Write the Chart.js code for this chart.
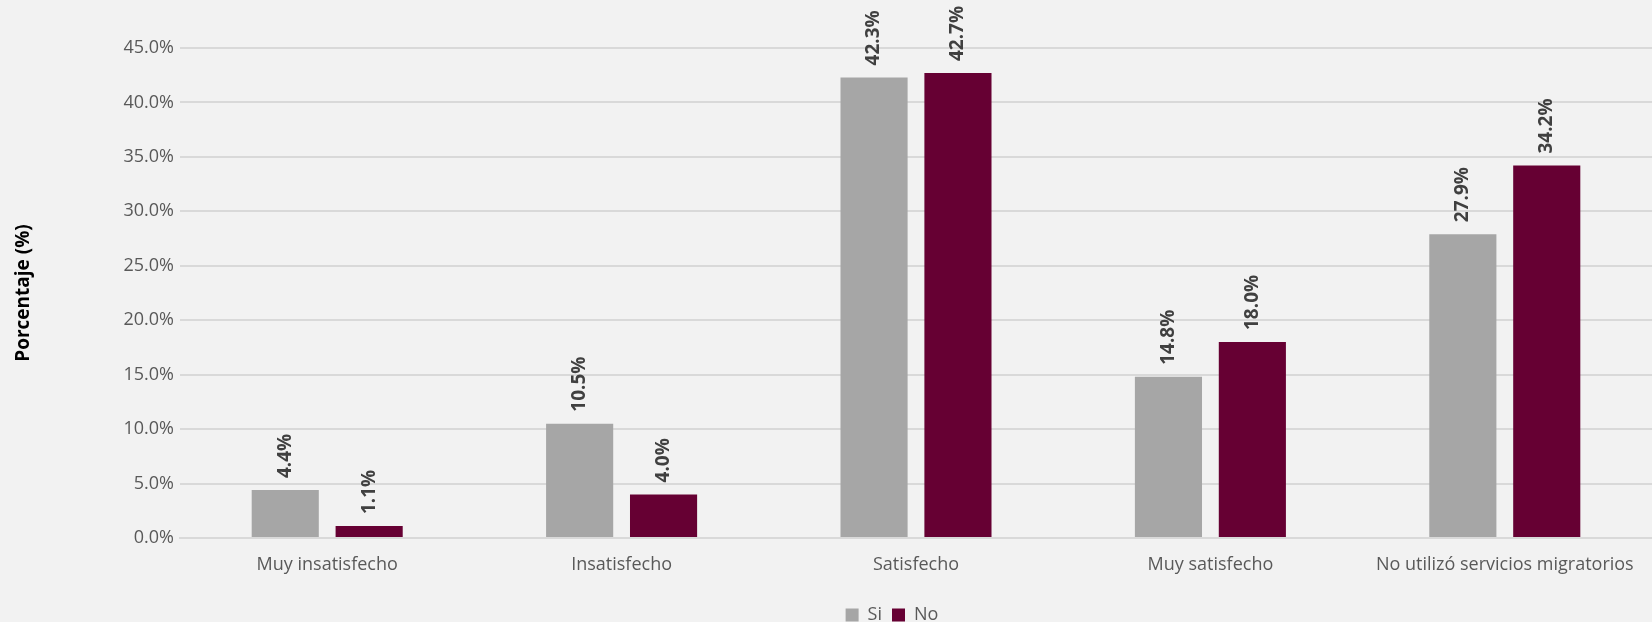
<!DOCTYPE html>
<html>
<head>
<meta charset="utf-8">
<script src="https://cdn.jsdelivr.net/npm/chart.js@4.4.1/dist/chart.umd.min.js"></script>
<style>
  html, body { margin: 0; padding: 0; background: #f2f2f2; }
  #wrap { width: 1652px; height: 622px; }
</style>
</head>
<body>
<div id="wrap"><canvas id="chart" width="1652" height="622"></canvas></div>
<script>
/* Datos del gráfico */
const categorias = ['Muy insatisfecho', 'Insatisfecho', 'Satisfecho', 'Muy satisfecho', 'No utilizó servicios migratorios'];
const valoresSi  = [4.4, 10.5, 42.3, 14.8, 27.9];
const valoresNo  = [1.1, 4.0, 42.7, 18.0, 34.2];
const ticksY     = [0, 5, 10, 15, 20, 25, 30, 35, 40, 45];

const FONT = "'Open Sans', sans-serif";

/* Etiquetas de valor verticales sobre cada barra */
const etiquetasBarras = {
  id: 'etiquetasBarras',
  afterDatasetsDraw(chart) {
    const ctx = chart.ctx;
    ctx.save();
    ctx.font = `bold 19px ${FONT}`;
    ctx.fillStyle = '#404040';
    ctx.textAlign = 'left';
    ctx.textBaseline = 'middle';
    chart.data.datasets.forEach((ds, i) => {
      chart.getDatasetMeta(i).data.forEach((bar, j) => {
        ctx.save();
        ctx.translate(bar.x, bar.y - 12);
        ctx.rotate(-Math.PI / 2);
        ctx.fillText(ds.data[j].toFixed(1) + '%', 0, 0);
        ctx.restore();
      });
    });
    ctx.restore();
  }
};

/* La leyenda del original queda algo a la derecha del centro del lienzo */
const moverLeyenda = {
  id: 'moverLeyenda',
  afterLayout(chart) {
    if (chart.legend) {
      chart.legend.left += 66;
      chart.legend.right += 66;
    }
  }
};

new Chart(document.getElementById('chart').getContext('2d'), {
  type: 'bar',
  data: {
    labels: categorias,
    datasets: [
      { label: 'Si', data: valoresSi, backgroundColor: '#a6a6a6', categoryPercentage: 0.57, barPercentage: 0.8 },
      { label: 'No', data: valoresNo, backgroundColor: '#660033', categoryPercentage: 0.57, barPercentage: 0.8 },
    ],
  },
  options: {
    responsive: false,
    animation: false,
    layout: { padding: { top: 48, right: 0, left: 0, bottom: -12 } },
    plugins: {
      legend: {
        position: 'bottom',
        labels: {
          font: { family: FONT, size: 18 },
          color: '#595959',
          boxWidth: 13,
          boxHeight: 13,
          padding: 10,
        },
      },
      tooltip: { enabled: false },
    },
    scales: {
      x: {
        grid: { display: false },
        border: { color: '#d9d9d9', width: 2 },
        ticks: { font: { family: FONT, size: 18 }, color: '#595959', padding: 8, maxRotation: 0 },
        afterFit: (s) => { s.height = 58; },
      },
      y: {
        min: 0,
        max: 45,
        afterBuildTicks: (s) => { s.ticks = ticksY.map(v => ({ value: v })); },
        afterFit: (s) => { s.width = 180; },
        grid: { color: '#d9d9d9', lineWidth: 2, drawTicks: false },
        border: { display: false },
        ticks: {
          font: { family: FONT, size: 18 },
          color: '#595959',
          padding: 6,
          callback: (v) => v.toFixed(1) + '%',
        },
        title: {
          display: true,
          text: 'Porcentaje (%)',
          font: { family: FONT, size: 19, weight: 'bold' },
          color: '#000000',
          padding: { top: 12, bottom: 0 },
        },
      },
    },
  },
  plugins: [etiquetasBarras, moverLeyenda],
});
</script>
</body>
</html>
